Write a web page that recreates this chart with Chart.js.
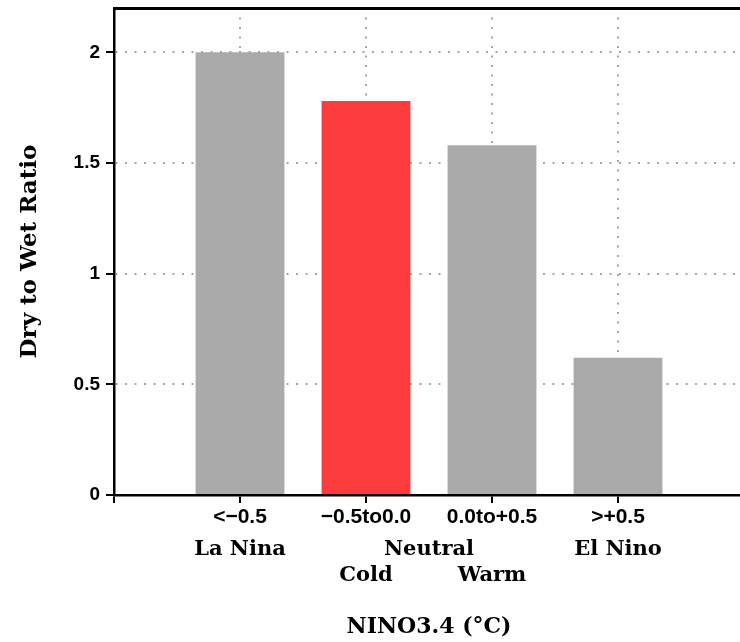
<!DOCTYPE html>
<html>
<head>
<meta charset="utf-8">
<script src="https://cdn.jsdelivr.net/npm/chart.js@4.4.1/dist/chart.umd.min.js"></script>
<style>
  html, body { margin: 0; padding: 0; background: #fff; overflow: hidden; }
  #wrap { width: 740px; height: 642px; overflow: hidden; }
  canvas { display: block; }
</style>
</head>
<body>
<div id="wrap"><canvas id="ratioChart" width="744" height="642"></canvas></div>
<script>
// ENSO categories of NINO3.4 anomaly and their dry-to-wet ratio
const categories = ['<\u22120.5', '\u22120.5to0.0', '0.0to+0.5', '>+0.5'];
const ratios = [2.0, 1.78, 1.58, 0.62];
const phases = ['La Nina', 'Neutral', 'El Nino'];
const phaseCategories = [[0], [1, 2], [3]];   // category indexes under each phase
const neutralParts = ['Cold', 'Warm'];
const yTicks = [0, 0.5, 1, 1.5, 2];
const highlighted = 1;

const GRAY = '#aaaaaa';
const RED = '#fc3c3c';
const GRID = '#a6a6a6';
const SANS = { family: "'Liberation Sans', Arial, sans-serif", weight: 'bold', size: 19 };
const SERIF = { family: "'DejaVu Serif', serif", weight: 'bold', size: 21 };

const slot = i => i + 1;   // category i sits at x = i + 1 on the axis
const mean = a => a.reduce((s, v) => s + v, 0) / a.length;

const gridOpts = { color: GRID, lineWidth: 2, tickColor: '#000', tickWidth: 2, tickLength: 8, offset: false };
const hiddenAxis = (weight, ticksAt, labels, extra) => Object.assign({
  type: 'linear', position: 'bottom', min: 0, max: 5, weight, offset: false,
  afterBuildTicks: s => { s.ticks = ticksAt.map(v => ({ value: v })); },
  ticks: { callback: (v, i) => labels[i], font: SERIF, color: '#000', padding: 0, autoSkip: false, maxRotation: 0 },
  grid: { display: false, drawTicks: false, offset: false },
  border: { display: false },
}, extra);

new Chart(document.getElementById('ratioChart'), {
  type: 'bar',
  data: {
    datasets: [{
      data: ratios.map((r, i) => ({ x: slot(i), y: r })),
      backgroundColor: ratios.map((_, i) => i === highlighted ? RED : GRAY),
      borderWidth: 0, barPercentage: 0.705, categoryPercentage: 1,
      xAxisID: 'x', yAxisID: 'y',
    }]
  },
  options: {
    responsive: false, animation: false,
    layout: { padding: { top: 8, left: 0, right: 0, bottom: 0 } },
    plugins: { legend: { display: false }, tooltip: { enabled: false } },
    scales: {
      y: {
        type: 'linear', position: 'left', min: 0, max: 2.2,
        afterBuildTicks: s => { s.ticks = yTicks.map(v => ({ value: v })); },
        afterFit: s => { s.width = 114; s.paddingTop = 0; s.paddingBottom = 0; },
        ticks: { callback: v => String(v), font: SANS, color: '#000', padding: 6 },
        grid: gridOpts,
        border: { color: '#000', width: 2.5, dash: [2, 7.5] },
        title: { display: true, text: 'Dry to Wet Ratio', font: { ...SERIF, size: 23 }, color: '#000', padding: { top: 16, bottom: 0 } },
      },
      x: {
        type: 'linear', position: 'bottom', min: 0, max: 5, weight: 0, offset: false,
        afterBuildTicks: s => { s.ticks = [0, ...categories.map((_, i) => slot(i))].map(v => ({ value: v })); },
        afterFit: s => { s.height = 42; },
        ticks: { callback: v => categories[v - 1] ?? '', font: { ...SANS, size: 21 }, color: '#000', padding: 2, autoSkip: false, maxRotation: 0 },
        grid: gridOpts,
        border: { color: '#000', width: 2.5, dash: [2, 7.5] },
      },
      xTop: {
        type: 'linear', position: 'top', min: 0, max: 5, display: true, offset: false,
        afterFit: s => { s.height = 0; s.paddingLeft = 0; s.paddingRight = 0; },
        ticks: { display: false },
        grid: { display: false, drawTicks: false },
        border: { color: '#000', width: 3 },
      },
      xPhase: hiddenAxis(1, phaseCategories.map(c => mean(c.map(slot))), phases,
        { afterFit: s => { s.height = 26; } }),
      xPart: hiddenAxis(2, phaseCategories[1].map(slot), neutralParts, {
        afterFit: s => { s.height = 79; },
        title: { display: true, text: 'NINO3.4 (\u00B0C)', font: { ...SERIF, size: 22 }, color: '#000', padding: { top: 0, bottom: 2 } },
      }),
    }
  }
});
</script>
</body>
</html>
